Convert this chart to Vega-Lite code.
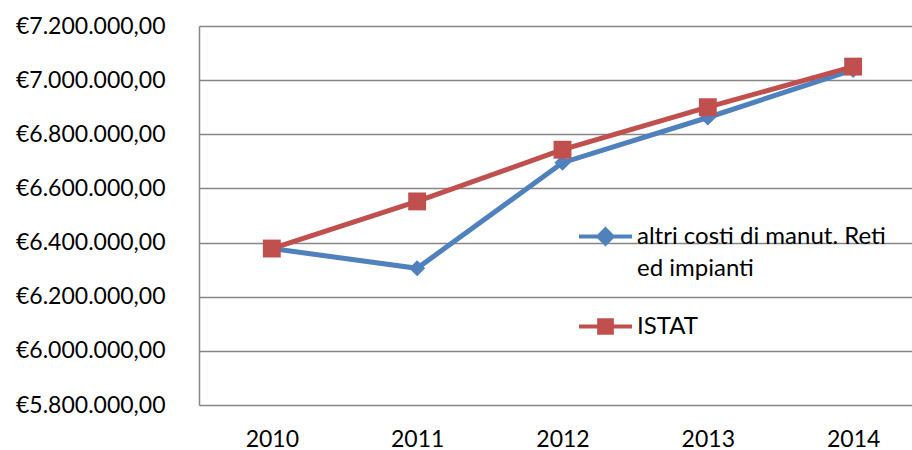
{
  "$schema": "https://vega.github.io/schema/vega-lite/v6.json",
  "width": 713,
  "height": 379,
  "autosize": "none",
  "padding": {"left": 199, "top": 26, "right": 0, "bottom": 45},
  "config": {
    "locale": {"number": {"decimal": ",", "thousands": ".", "grouping": [3], "currency": ["€", ""]}},
    "view": {"stroke": null},
    "font": "Lato"
  },
  "data": {
    "values": [
      {"anno": "2010", "serie": "altri costi di manut. Reti ed impianti", "valore": 6378000},
      {"anno": "2011", "serie": "altri costi di manut. Reti ed impianti", "valore": 6305000},
      {"anno": "2012", "serie": "altri costi di manut. Reti ed impianti", "valore": 6695000},
      {"anno": "2013", "serie": "altri costi di manut. Reti ed impianti", "valore": 6862000},
      {"anno": "2014", "serie": "altri costi di manut. Reti ed impianti", "valore": 7038000},
      {"anno": "2010", "serie": "ISTAT", "valore": 6378000},
      {"anno": "2011", "serie": "ISTAT", "valore": 6552000},
      {"anno": "2012", "serie": "ISTAT", "valore": 6743000},
      {"anno": "2013", "serie": "ISTAT", "valore": 6900000},
      {"anno": "2014", "serie": "ISTAT", "valore": 7050000}
    ]
  },
  "encoding": {
    "x": {
      "field": "anno", "type": "ordinal", "title": null,
      "scale": {"type": "point", "padding": 0.453, "align": 0.553},
      "axis": {"domain": false, "ticks": false, "grid": false, "labelAngle": 0, "labelFontSize": 23, "labelColor": "#000000", "labelPadding": 23, "labelFont": "Lato"}
    },
    "y": {
      "field": "valore", "type": "quantitative", "title": null,
      "scale": {"domain": [5800000, 7200000], "nice": false, "zero": false},
      "axis": {
        "values": [5800000, 6000000, 6200000, 6400000, 6600000, 6800000, 7000000, 7200000],
        "format": "$,.2f",
        "domain": true, "domainColor": "#868686", "domainWidth": 1.5,
        "ticks": false,
        "grid": true, "gridColor": "#868686", "gridWidth": 1.5, "gridOpacity": 1,
        "labelFontSize": 23, "labelColor": "#000000", "labelPadding": 34, "labelFont": "Lato"
      }
    }
  },
  "layer": [
    {
      "mark": {"type": "line", "strokeWidth": 5},
      "encoding": {
        "color": {
          "field": "serie", "type": "nominal",
          "scale": {"domain": ["altri costi di manut. Reti ed impianti", "ISTAT"], "range": ["#4F81BD", "#C0504D"]},
          "legend": {
            "orient": "none", "legendX": 378, "legendY": 182, "title": null, "direction": "vertical",
            "labelExpr": "datum.label == 'ISTAT' ? 'ISTAT' : ['altri costi di manut. Reti', 'ed impianti']",
            "labelFontSize": 24, "labelFont": "Lato", "labelColor": "#000000", "labelLimit": 500,
            "labelBaseline": "middle",
            "symbolSize": 2809, "symbolStrokeWidth": 4, "labelOffset": 3, "rowPadding": 17,
            "encode": {
              "symbols": {"update": {
                "shape": {"signal": "datum.value == 'ISTAT' ? 'M-1,0H1M-0.24,-0.24H0.24V0.24H-0.24Z' : 'M-1,0H1M0,-0.27L0.27,0L0,0.27L-0.27,0Z'"},
                "fill": {"scale": "color", "field": "value"},
                "stroke": {"scale": "color", "field": "value"},
                "strokeWidth": {"value": 4},
                "opacity": {"value": 1}
              }},
              "labels": {"update": {"lineHeight": {"value": 32}}}
            }
          }
        }
      }
    },
    {
      "transform": [{"filter": "datum.serie != 'ISTAT'"}],
      "mark": {"type": "point", "filled": true, "opacity": 1, "shape": "diamond", "size": 260, "color": "#4F81BD"}
    },
    {
      "transform": [{"filter": "datum.serie == 'ISTAT'"}],
      "mark": {"type": "point", "filled": true, "opacity": 1, "shape": "square", "size": 320, "color": "#C0504D"}
    }
  ]
}
